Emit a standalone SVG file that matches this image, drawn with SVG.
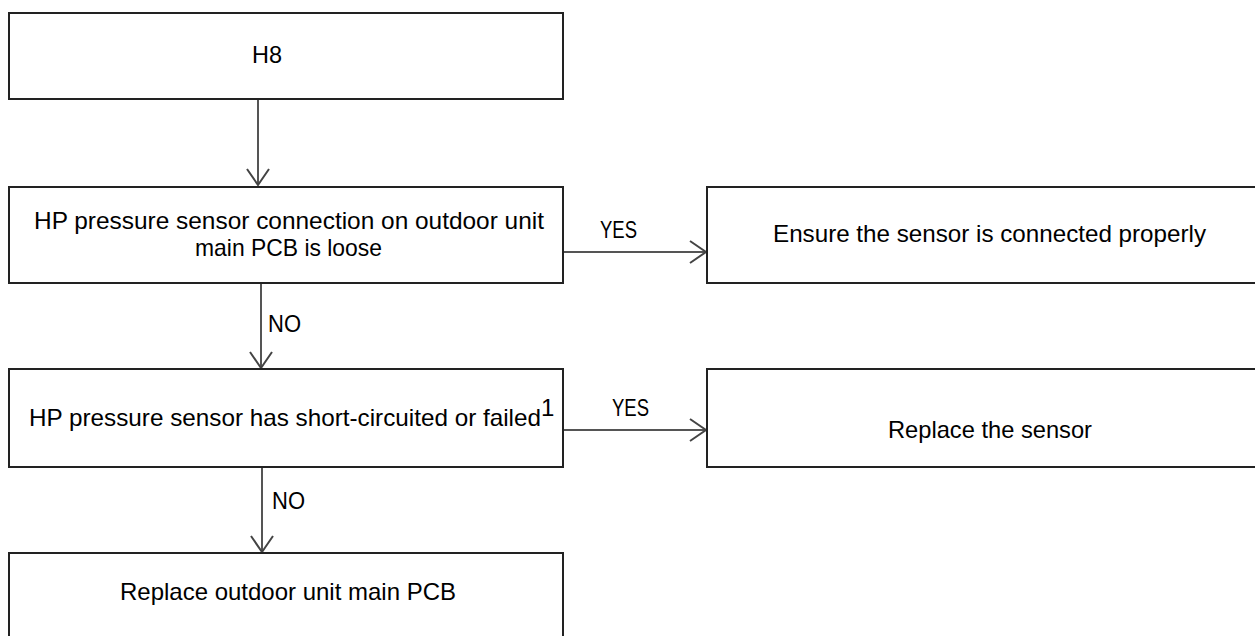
<svg xmlns="http://www.w3.org/2000/svg" width="1255" height="636" viewBox="0 0 1255 636">
  <style>
    .box { fill: #ffffff; stroke: #222222; stroke-width: 2; }
    .t { font-family: "Liberation Sans", Arial, sans-serif; font-size: 24px; fill: #000000; }
    .c { text-anchor: middle; }
    .lbl { font-family: "Liberation Sans", Arial, sans-serif; font-size: 23px; fill: #000000; }
    .conn { stroke: #555555; stroke-width: 2; fill: none; marker-end: url(#chev); }
  </style>
  <defs>
    <marker id="chev" markerUnits="userSpaceOnUse" viewBox="0 0 20 26" refX="17" refY="13" markerWidth="20" markerHeight="26" orient="auto">
      <path d="M1,2 L17,13 L1,24" fill="none" stroke="#444444" stroke-width="2"/>
    </marker>
  </defs>
  <rect width="1255" height="636" fill="#ffffff"/>

  <g id="connectors">
    <line class="conn" x1="258" y1="99" x2="258" y2="185"/>
    <line class="conn" x1="261" y1="283" x2="261" y2="368"/>
    <line class="conn" x1="262" y1="467" x2="262" y2="552"/>
    <line class="conn" x1="564" y1="252" x2="706" y2="252"/>
    <line class="conn" x1="564" y1="430" x2="706" y2="430"/>
    <text class="lbl" x="600" y="238" textLength="37" lengthAdjust="spacingAndGlyphs">YES</text>
    <text class="lbl" x="612" y="416" textLength="37" lengthAdjust="spacingAndGlyphs">YES</text>
    <text class="lbl" x="268" y="332" textLength="33" lengthAdjust="spacingAndGlyphs">NO</text>
    <text class="lbl" x="272" y="509" textLength="33" lengthAdjust="spacingAndGlyphs">NO</text>
  </g>

  <g id="node-h8">
    <rect class="box" x="9" y="13" width="554" height="86"/>
    <text class="t" x="252" y="63" textLength="30" lengthAdjust="spacingAndGlyphs">H8</text>
  </g>

  <g id="node-loose">
    <rect class="box" x="9" y="187" width="554" height="96"/>
    <text class="t" x="34" y="229" textLength="510" lengthAdjust="spacingAndGlyphs">HP pressure sensor connection on outdoor unit</text>
    <text class="t" x="195" y="256" textLength="187" lengthAdjust="spacingAndGlyphs">main PCB is loose</text>
  </g>

  <g id="node-ensure">
    <rect class="box" x="707" y="187" width="560" height="96"/>
    <text class="t" x="773" y="242" textLength="433" lengthAdjust="spacingAndGlyphs">Ensure the sensor is connected properly</text>
  </g>

  <g id="node-failed">
    <rect class="box" x="9" y="369" width="554" height="98"/>
    <text class="t" x="29" y="426" textLength="512" lengthAdjust="spacingAndGlyphs">HP pressure sensor has short-circuited or failed</text>
    <text class="t" x="541" y="416" font-size="14">1</text>
  </g>

  <g id="node-replace-sensor">
    <rect class="box" x="707" y="369" width="560" height="98"/>
    <text class="t" x="888" y="438" textLength="204" lengthAdjust="spacingAndGlyphs">Replace the sensor</text>
  </g>

  <g id="node-replace-pcb">
    <rect class="box" x="9" y="553" width="554" height="100"/>
    <text class="t" x="120" y="600" textLength="336" lengthAdjust="spacingAndGlyphs">Replace outdoor unit main PCB</text>
  </g>
</svg>
